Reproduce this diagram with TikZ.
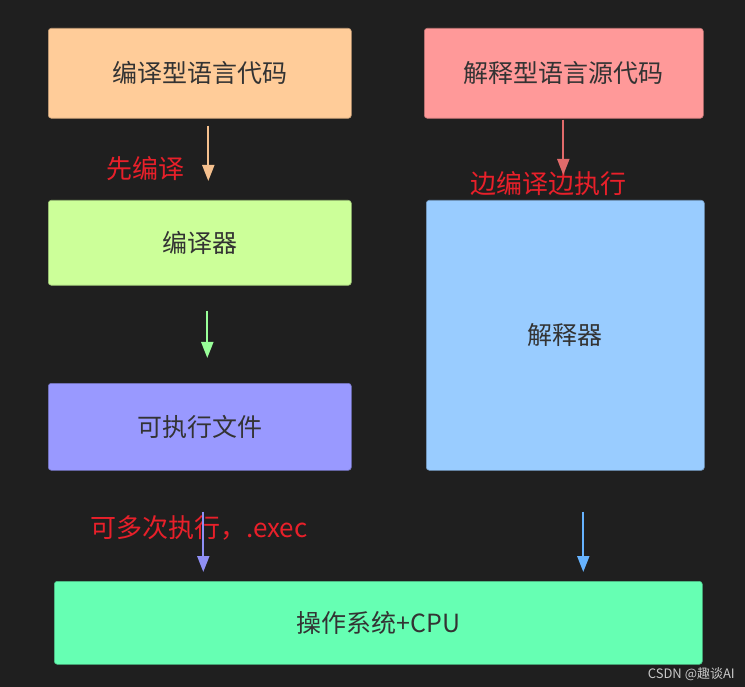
\documentclass[tikz,border=0pt]{standalone}
\usepackage{fontspec}
\setmainfont{Noto Sans CJK SC}
\usetikzlibrary{arrows.meta}
\definecolor{bg}{HTML}{1F1F1F}
\definecolor{txt}{HTML}{333333}
\definecolor{cA}{HTML}{FFCC99}
\definecolor{cB}{HTML}{FF9999}
\definecolor{cC}{HTML}{CCFF99}
\definecolor{cD}{HTML}{99CCFF}
\definecolor{cE}{HTML}{9999FF}
\definecolor{cF}{HTML}{66FFB3}
\definecolor{aA}{HTML}{F5C08E}
\definecolor{aB}{HTML}{E06A6A}
\definecolor{aC}{HTML}{99FF99}
\definecolor{aD}{HTML}{66B3FF}
\definecolor{aE}{HTML}{8F8FF5}
\definecolor{lab}{HTML}{E8202A}
\definecolor{wm}{HTML}{C8C8C8}
\begin{document}
\begin{tikzpicture}[x=1pt,y=-1pt,
  box/.style={draw=#1!75!black, fill=#1, rounded corners=3pt, line width=0.6pt,
    text=txt, inner sep=0pt, anchor=north west,
    font=\fontsize{25}{30}\selectfont},
  arr/.style={draw=#1, line width=2pt, -{Triangle[length=16pt,width=12pt]}},
  lbl/.style={text=lab, inner sep=0pt, font=\fontsize{26}{30}\selectfont}]
\fill[bg] (0,0) rectangle (745,687);
\useasboundingbox (0,0) rectangle (745,687);
\node[box=cA, minimum width=303pt, minimum height=90pt] (A) at (48,28) {编译型语言代码};
\node[box=cB, minimum width=279pt, minimum height=90pt] (B) at (424,28) {解释型语言源代码};
\node[box=cC, minimum width=303pt, minimum height=85pt] (C) at (48,200) {编译器};
\node[box=cD, minimum width=278pt, minimum height=270pt] (D) at (426,200) {解释器};
\node[box=cE, minimum width=303pt, minimum height=87pt] (E) at (48,383) {可执行文件};
\node[box=cF, minimum width=648pt, minimum height=83pt] (F) at (54,581) {操作系统+CPU};
\node[lbl] (L1) at (145,169) {先编译};
\node[lbl] (L2) at (548,184) {边编译边执行};
\node[lbl] (L3) at (199,528) {可多次执行，.exec};
\draw[arr=aA] ([xshift=8.5pt,yshift=-7pt]A.south) -- ([xshift=8.5pt,yshift=19pt]C.north);
\draw[arr=aC] ([xshift=7.5pt,yshift=-25pt]C.south) -- ([xshift=7.5pt,yshift=25pt]E.north);
\draw[arr=aE] ([xshift=3.5pt,yshift=-41pt]E.south) -- ([xshift=3.5pt,yshift=9pt]E.south |- F.north);
\draw[arr=aB] ([xshift=-0.5pt,yshift=-1pt]B.south) -- ([xshift=-0.5pt,yshift=25pt]B.south |- D.north);
\draw[arr=aD] ([xshift=18pt,yshift=-41pt]D.south) -- ([xshift=18pt,yshift=9pt]D.south |- F.north);
\node[text=wm, anchor=east, inner sep=0pt, font=\fontsize{13}{15}\selectfont] (W) at (735,674) {CSDN @趣谈AI};
\end{tikzpicture}
\end{document}
